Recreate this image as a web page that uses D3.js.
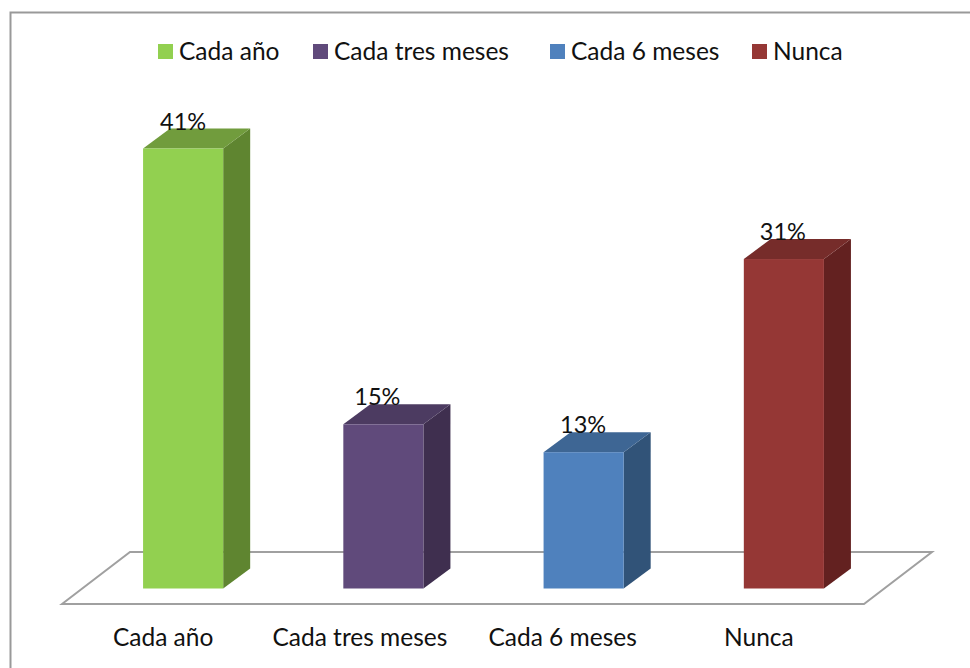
<!DOCTYPE html>
<html lang="es">
<head>
<meta charset="UTF-8">
<title>Frecuencia</title>
<script src="https://d3js.org/d3.v7.min.js"></script>
<style>
  html, body { margin: 0; padding: 0; background: #fff; overflow: hidden; }
  text { font-family: Lato, "Open Sans", sans-serif; fill: #111; }
</style>
</head>
<body>
<div id="chart"></div>
<script>
// values
const categories = ["Cada año", "Cada tres meses", "Cada 6 meses", "Nunca"];
const percentages = [41, 15.3, 12.7, 30.7];
const frontColors = ["#92d050", "#604a7b", "#4f81bd", "#953735"];
const topColors = ["#719c3d", "#4c3b61", "#3e6694", "#762c2a"];
const sideColors = ["#5f8530", "#3f2f4f", "#315378", "#632120"];

const width = 970, height = 668;
const depthX = 27, depthY = -20;
const floorFront = 604, floorBack = 552;
const baseY = 588.5;

// small per label shifts, the original labels are not quite centred
const valueNudge = [0, -6, -0.5, -1];
const tickNudge = [0, -3.5, -1, -5];
const legendX = [158, 313, 550, 752];

const svg = d3.select("#chart").append("svg")
    .attr("width", width)
    .attr("height", height);

// outer chart frame, only left and top are in view
svg.append("rect")
    .attr("x", 10.5).attr("y", 12.5)
    .attr("width", 980).attr("height", 680)
    .attr("fill", "#fff")
    .attr("stroke", "#999")
    .attr("stroke-width", 2);

const x = d3.scaleBand()
    .domain(categories)
    .range([83, 884])
    .paddingInner(0.6)
    .paddingOuter(0.3);

const y = d3.scaleLinear()
    .domain([0, 41])
    .range([baseY, 148.5]);

// floor of the 3D plot
const floorPoints = [[62, floorFront], [130, floorBack], [932, floorBack], [864, floorFront]];
svg.append("polygon")
    .attr("points", floorPoints.join(" "))
    .attr("fill", "none")
    .attr("stroke", "#a0a0a0")
    .attr("stroke-width", 2);

const rows = categories.map((c, i) => ({ name: c, value: percentages[i], i: i }));

const bars = svg.selectAll("g.bar")
    .data(rows)
    .enter().append("g")
    .attr("class", "bar");

// side face
bars.append("polygon")
    .attr("points", d => {
        const r = x(d.name) + x.bandwidth();
        return [[r, y(d.value)], [r + depthX, y(d.value) + depthY],
                [r + depthX, baseY + depthY], [r, baseY]].join(" ");
    })
    .attr("fill", d => sideColors[d.i]);

// top face
bars.append("polygon")
    .attr("points", d => {
        const l = x(d.name), r = l + x.bandwidth(), t = y(d.value);
        return [[l, t], [l + depthX, t + depthY], [r + depthX, t + depthY], [r, t]].join(" ");
    })
    .attr("fill", d => topColors[d.i]);

// front face
bars.append("rect")
    .attr("x", d => x(d.name))
    .attr("y", d => y(d.value))
    .attr("width", x.bandwidth())
    .attr("height", d => baseY - y(d.value))
    .attr("fill", d => frontColors[d.i]);

// data labels
bars.append("text")
    .attr("x", d => x(d.name) + x.bandwidth() / 2 + valueNudge[d.i])
    .attr("y", d => y(d.value) - 19)
    .attr("text-anchor", "middle")
    .attr("font-size", 23.5)
    .text(d => d3.format(".0f")(d.value) + "%");

// category axis, sits on the front edge of the floor
const axis = svg.append("g")
    .attr("transform", "translate(-20,629)")
    .call(d3.axisBottom(x).tickSize(0).tickPadding(0));
axis.select(".domain").remove();
axis.selectAll("text")
    .attr("x", (d, i) => tickNudge[i])
    .attr("font-size", 24.5)
    .attr("dy", "0.7em")
    .style("font-family", "Lato, 'Open Sans', sans-serif")
    .style("fill", "#111");

// legend
const legend = svg.selectAll("g.legend")
    .data(rows)
    .enter().append("g")
    .attr("class", "legend")
    .attr("transform", d => "translate(" + legendX[d.i] + ",44)");

legend.append("rect")
    .attr("width", 15).attr("height", 15)
    .attr("fill", d => frontColors[d.i]);

legend.append("text")
    .attr("x", 21).attr("y", 16)
    .attr("font-size", 24.5)
    .text(d => d.name);
</script>
</body>
</html>
